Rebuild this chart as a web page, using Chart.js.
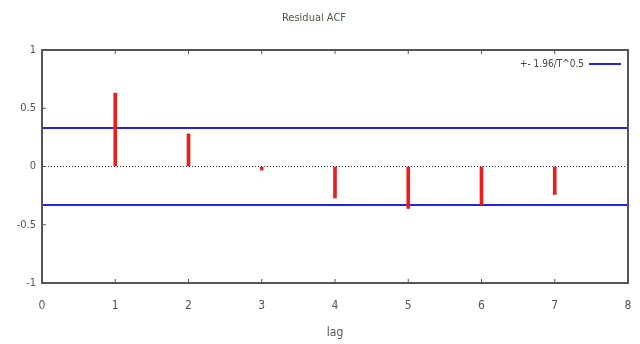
<!DOCTYPE html>
<html>
<head>
<meta charset="utf-8">
<script src="https://cdn.jsdelivr.net/npm/chart.js@4"></script>
<style>
  html, body { margin: 0; padding: 0; background: #fff; }
  #wrap { width: 640px; height: 344px; }
</style>
</head>
<body>
<div id="wrap"><canvas id="acf"></canvas></div>
<script>
// lags and residual autocorrelations
const lags = [1, 2, 3, 4, 5, 6, 7];
const acf = [0.63, 0.28, -0.03, -0.27, -0.36, -0.33, -0.24];
const bound = 0.33;          // +- 1.96/T^0.5
const boundLabel = '+- 1.96/T^0.5';
const xRange = [0, 8];
const yTicks = [-1, -0.5, 0, 0.5, 1];

const font = "'DejaVu Sans Condensed', 'Liberation Sans Narrow', 'Liberation Sans', sans-serif";
const blue = '#2323e0';

// box around the plot, small inward tick marks and the key, like gnuplot
const frame = {
  id: 'frame',
  afterDatasetsDraw(chart) {
    const { ctx, chartArea: a, scales } = chart;
    ctx.save();
    ctx.strokeStyle = '#555';
    ctx.lineWidth = 2;
    ctx.strokeRect(a.left, a.top, a.right - a.left, a.bottom - a.top);
    ctx.lineWidth = 1;
    ctx.beginPath();
    for (let v = xRange[0] + 1; v < xRange[1]; v++) {
      const x = scales.x.getPixelForValue(v);
      ctx.moveTo(x, a.bottom); ctx.lineTo(x, a.bottom - 4);
      ctx.moveTo(x, a.top); ctx.lineTo(x, a.top + 4);
    }
    yTicks.slice(1, -1).forEach(v => {
      const y = scales.y.getPixelForValue(v);
      ctx.moveTo(a.left, y); ctx.lineTo(a.left + 4, y);
    });
    ctx.stroke();

    // key
    const ky = a.top + 14;
    const kx = a.right - 44;
    ctx.font = '10px ' + font;
    ctx.fillStyle = '#444';
    ctx.textAlign = 'right';
    ctx.textBaseline = 'middle';
    ctx.fillText(boundLabel, kx, ky);
    ctx.strokeStyle = blue;
    ctx.lineWidth = 2;
    ctx.beginPath();
    ctx.moveTo(kx + 5, ky); ctx.lineTo(kx + 37, ky);
    ctx.stroke();
    ctx.restore();
  }
};

new Chart(document.getElementById('acf'), {
  type: 'bar',
  data: {
    datasets: [
      {
        label: 'acf',
        data: lags.map((l, i) => ({ x: l, y: acf[i] })),
        backgroundColor: '#e8201c',
        barThickness: 3,
        order: 1
      },
      {
        type: 'line',
        label: boundLabel,
        data: xRange.map(x => ({ x, y: bound })),
        borderColor: blue,
        borderWidth: 2,
        pointRadius: 0,
        order: 2
      },
      {
        type: 'line',
        label: 'lower',
        data: xRange.map(x => ({ x, y: -bound })),
        borderColor: blue,
        borderWidth: 2,
        pointRadius: 0,
        order: 2
      },
      {
        type: 'line',
        label: 'zero',
        data: xRange.map(x => ({ x, y: 0 })),
        borderColor: '#333',
        borderWidth: 1,
        borderDash: [1, 2],
        pointRadius: 0,
        order: 3
      }
    ]
  },
  options: {
    responsive: true,
    maintainAspectRatio: false,
    animation: false,
    layout: { padding: { top: 0, right: 12, left: 0, bottom: 0 } },
    plugins: {
      title: {
        display: true,
        text: 'Residual ACF',
        color: '#4a5a4a',
        font: { family: font, size: 11, weight: 'normal' },
        padding: { top: 12, bottom: 24.8 }
      },
      legend: { display: false },
      tooltip: { enabled: false }
    },
    scales: {
      x: {
        type: 'linear',
        offset: false,
        min: xRange[0],
        max: xRange[1],
        grid: { drawOnChartArea: false, drawTicks: false, offset: false },
        border: { display: false },
        ticks: { stepSize: 1, padding: 16, color: '#555', font: { family: font, size: 12 } },
        title: { display: true, text: 'lag', color: '#555', font: { family: font, size: 12 }, padding: { top: 18 } },
        afterFit: s => { s.height = 61; s.paddingLeft = 0; s.paddingRight = 0; }
      },
      y: {
        min: -1,
        max: 1,
        grid: { drawOnChartArea: false, drawTicks: false },
        border: { display: false },
        ticks: {
          stepSize: 0.5, padding: 6, color: '#555', font: { family: font, size: 11 },
          callback: v => String(v)
        },
        afterFit: s => { s.width = 42; }
      }
    }
  },
  plugins: [frame]
});
</script>
</body>
</html>
